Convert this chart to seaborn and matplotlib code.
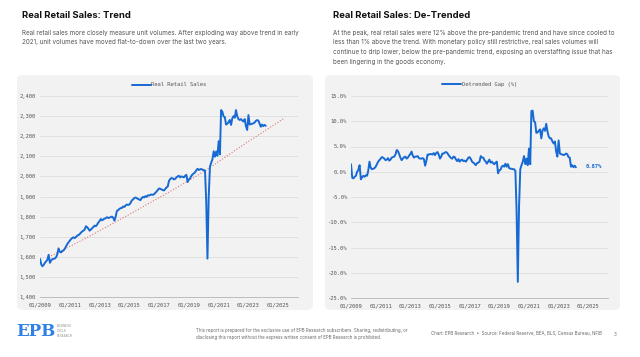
import pandas as pd
import matplotlib
matplotlib.use("Agg")
import matplotlib.pyplot as plt
import matplotlib.dates as mdates
from matplotlib.patches import FancyBboxPatch
from matplotlib.ticker import FuncFormatter, MultipleLocator, FixedLocator
import seaborn as sns

# monthly data, 01/2009 .. 03/2024
real_retail_sales = [
    1590, 1562, 1553, 1560, 1570, 1578, 1585, 1610, 1570, 1582, 1588, 1590,  # 2009
    1592, 1598, 1612, 1642, 1625, 1622, 1628, 1632, 1640, 1652, 1663, 1672,  # 2010
    1680, 1688, 1693, 1697, 1693, 1698, 1705, 1708, 1713, 1720, 1726, 1730,  # 2011
    1735, 1752, 1748, 1740, 1730, 1735, 1742, 1748, 1755, 1752, 1760, 1770,  # 2012
    1778, 1788, 1782, 1785, 1790, 1792, 1797, 1793, 1795, 1797, 1800, 1795,  # 2013
    1780, 1800, 1828, 1832, 1838, 1842, 1843, 1850, 1848, 1855, 1860, 1858,  # 2014
    1860, 1868, 1880, 1885, 1892, 1895, 1892, 1888, 1885, 1882, 1892, 1898,  # 2015
    1895, 1902, 1898, 1906, 1905, 1908, 1910, 1908, 1912, 1918, 1925, 1933,  # 2016
    1940, 1938, 1935, 1932, 1930, 1938, 1945, 1950, 1978, 1987, 1992, 1990,  # 2017
    1985, 1988, 1995, 2000, 2003, 1995, 2000, 1998, 1995, 2003, 2008, 1972,  # 2018
    1985, 1990, 2002, 2010, 2015, 2020, 2030, 2038, 2032, 2035, 2037, 2033,  # 2019
    2032, 2028, 1880, 1591, 1895, 2048, 2068, 2085, 2125, 2098, 2124, 2102,  # 2020
    2175, 2110, 2330, 2322, 2298, 2295, 2258, 2262, 2270, 2281, 2256, 2289,  # 2021
    2300, 2292, 2330, 2300, 2285, 2281, 2285, 2278, 2273, 2285, 2250, 2231,  # 2022
    2305, 2258, 2260, 2262, 2264, 2268, 2276, 2280, 2278, 2262, 2247, 2258,  # 2023
    2250, 2256, 2252,                                                        # 2024
]

detrended_gap = [
    1.5, -1.2, -1.3, -1.0, -0.8, 0.0, 0.4, 1.3, -1.5, -1.1, -0.8, -1.0,  # 2009
    -0.7, -0.8, 0.2, 2.0, 0.8, 0.5, 0.6, 0.7, 1.0, 1.5, 2.0, 2.3,        # 2010
    2.6, 2.9, 2.8, 2.6, 2.3, 2.4, 2.7, 2.2, 2.4, 2.8, 2.9, 3.0,          # 2011
    3.4, 4.3, 4.1, 3.5, 2.8, 2.3, 2.6, 2.9, 3.0, 2.6, 2.8, 3.2,          # 2012
    3.5, 4.0, 3.2, 2.8, 3.0, 3.0, 3.1, 2.7, 2.6, 2.6, 2.7, 2.5,          # 2013
    1.2, 2.2, 3.4, 3.4, 3.5, 3.5, 3.4, 3.7, 3.3, 3.7, 3.9, 3.4,          # 2014
    2.6, 3.0, 3.6, 3.6, 3.8, 3.9, 3.7, 3.3, 3.0, 2.7, 2.6, 3.0,          # 2015
    2.9, 2.4, 2.1, 2.5, 2.0, 2.3, 2.4, 2.1, 2.2, 2.0, 2.4, 2.8,          # 2016
    2.9, 2.5, 2.0, 1.8, 1.6, 1.3, 1.7, 1.8, 2.0, 3.1, 2.8, 2.8,          # 2017
    2.3, 2.0, 1.6, 2.0, 2.4, 1.8, 2.0, 1.7, 1.5, 1.8, 2.0, -0.3,         # 2018
    0.3, 0.4, 1.0, 1.2, 1.0, 1.6, 1.0, 1.5, 0.7, 0.6, 0.6, 0.5,          # 2019
    0.5, 0.2, -7.5, -21.8, -7.0, 0.5, 1.3, 2.0, 3.1, 1.5, 2.6, 1.3,      # 2020
    4.6, 1.5, 12.0, 12.1, 10.0, 9.8, 7.7, 7.8, 8.1, 8.4, 6.6, 8.2,       # 2021
    8.6, 8.1, 9.5, 8.0, 7.0, 6.6, 6.6, 6.0, 5.6, 6.0, 4.0, 3.0,          # 2022
    6.2, 3.6, 3.5, 3.4, 3.3, 3.4, 3.6, 3.5, 2.9, 2.8, 1.0, 1.3,          # 2023
    0.9, 1.2, 0.87,                                                      # 2024
]

# pre-pandemic trend, points
trend_dates = ['2009-10-01', '2012-01-01', '2015-01-01', '2018-01-01', '2020-02-01', '2023-01-01', '2025-06-01']
trend_values = [1605, 1689, 1811, 1936, 2028, 2174, 2290]

# x tick positions shown on both charts
tick_dates = ['2009-01-01', '2011-01-01', '2013-01-01', '2015-01-01', '2017-01-01',
              '2019-01-01', '2021-01-01', '2023-01-01', '2025-01-01']

months = pd.date_range('2009-01-01', periods=len(real_retail_sales), freq='MS')
sales_df = pd.DataFrame({'date': months, 'value': real_retail_sales})
gap_df = pd.DataFrame({'date': months, 'value': detrended_gap})
trend_df = pd.DataFrame({'date': pd.to_datetime(trend_dates), 'value': trend_values})

BLUE = '#1769d3'
PANEL = '#f2f2f2'
W, H = 640, 357

sns.set_style('white')
plt.rcParams['font.family'] = ['Inter', 'DejaVu Sans']
MONO = 'DejaVu Sans Mono'

fig = plt.figure(figsize=(6.4, 3.57), dpi=100)
fig.patch.set_facecolor('white')


def px(x, y):
    # pixel coords (top-left origin) -> figure coords
    return x / W, 1 - y / H


def panel(x0, y0, x1, y1):
    fx0, fy1 = px(x0, y1)
    fx1, fy0 = px(x1, y0)
    box = FancyBboxPatch((fx0, fy1), fx1 - fx0, fy0 - fy1,
                         boxstyle='round,pad=0,rounding_size=0.012',
                         transform=fig.transFigure, facecolor=PANEL,
                         edgecolor='none', zorder=-10)
    fig.patches.append(box)


panel(17, 75, 313, 310)
panel(325, 75, 620, 310)

# headers
fig.text(*px(22, 16), 'Real Retail Sales: Trend', fontsize=6.8, fontweight='bold',
         color='#111111', va='center')
fig.text(*px(333, 16), 'Real Retail Sales: De-Trended', fontsize=6.8, fontweight='bold',
         color='#111111', va='center')
fig.text(*px(22, 29.5), 'Real retail sales more closely measure unit volumes. After exploding way above trend in early\n'
         '2021, unit volumes have moved flat-to-down over the last two years.',
         fontsize=4.5, color='#555555', va='top', linespacing=1.75)
fig.text(*px(333, 29.5), 'At the peak, real retail sales were 12% above the pre-pandemic trend and have since cooled to\n'
         'less than 1% above the trend. With monetary policy still restrictive, real sales volumes will\n'
         'continue to drip lower, below the pre-pandemic trend, exposing an overstaffing issue that has\n'
         'been lingering in the goods economy.',
         fontsize=4.5, color='#555555', va='top', linespacing=1.75)


def style_axes(ax):
    ax.set_facecolor('none')
    for s in ['top', 'right', 'left']:
        ax.spines[s].set_visible(False)
    ax.spines['bottom'].set_color('#b5b5b5')
    ax.spines['bottom'].set_linewidth(0.6)
    ax.grid(axis='y', color='#dddddd', linewidth=0.6)
    ax.grid(axis='x', visible=False)
    ax.set_axisbelow(True)
    ax.set_xlabel('')
    ax.set_ylabel('')
    ax.xaxis.set_major_locator(FixedLocator(mdates.date2num(pd.to_datetime(tick_dates))))
    ax.xaxis.set_major_formatter(mdates.DateFormatter('%m/%Y'))
    ax.set_xlim(pd.Timestamp('2009-01-01'), pd.Timestamp('2026-05-01'))
    ax.tick_params(axis='x', length=2, width=0.5, color='#b5b5b5', pad=2,
                   labelsize=4, labelcolor='#555555')
    ax.tick_params(axis='y', length=0, pad=3, labelsize=4, labelcolor='#555555')
    for lab in ax.get_xticklabels() + ax.get_yticklabels():
        lab.set_fontfamily(MONO)
    leg = ax.legend(loc='center', bbox_to_anchor=(0.5, 1.055), frameon=False,
                    handlelength=3.4, handletextpad=0.1,
                    prop={'family': MONO, 'size': 4})
    for t in leg.get_texts():
        t.set_color('#555555')


# left chart: level with trend
ax1 = fig.add_axes([40 / W, 1 - 297 / H, 258 / W, 201 / H])
sns.lineplot(data=trend_df, x='date', y='value', ax=ax1, color='#e57373',
             linewidth=0.8, linestyle=(0, (1, 1.6)), legend=False)
sns.lineplot(data=sales_df, x='date', y='value', ax=ax1, color=BLUE,
             linewidth=1.4, label='Real Retail Sales')
ax1.set_ylim(1400, 2400)
ax1.yaxis.set_major_locator(MultipleLocator(100))
ax1.yaxis.set_major_formatter(FuncFormatter(lambda v, p: f'{v:,.0f}'))
style_axes(ax1)

# right chart: detrended gap
ax2 = fig.add_axes([351 / W, 1 - 298 / H, 257 / W, 202 / H])
sns.lineplot(data=gap_df, x='date', y='value', ax=ax2, color=BLUE,
             linewidth=1.4, label='Detrended Gap (%)')
ax2.set_ylim(-25, 15)
ax2.yaxis.set_major_locator(MultipleLocator(5))
ax2.yaxis.set_major_formatter(FuncFormatter(lambda v, p: f'{v:.1f}%'))
style_axes(ax2)
ax2.annotate(f'{detrended_gap[-1]:.2f}%', xy=(months[-1], detrended_gap[-1]),
             xytext=(7, 0.5), textcoords='offset points', fontsize=4,
             family=MONO, fontweight='bold', color=BLUE, va='center')

# footer
fig.text(*px(16, 331), 'EPB', fontsize=12, fontweight='bold', color='#2f80e6',
         va='center', family='DejaVu Serif')
fig.text(*px(57, 331), 'BUSINESS\nCYCLE\nRESEARCH', fontsize=2.2, color='#8a8a8a',
         va='center', linespacing=1.4)
fig.text(*px(196, 334), 'This report is prepared for the exclusive use of EPB Research subscribers. Sharing, redistributing, or\n'
         'disclosing this report without the express written consent of EPB Research is prohibited.',
         fontsize=3.2, color='#666666', va='center', linespacing=1.5)
fig.text(*px(431, 334), 'Chart: EPB Research  \u2022  Source: Federal Reserve, BEA, BLS, Census Bureau, NFIB',
         fontsize=3.2, color='#666666', va='center')
fig.text(*px(614, 334), '3', fontsize=3.2, color='#666666', va='center')

fig.savefig('out.png', dpi=100, facecolor='white')
